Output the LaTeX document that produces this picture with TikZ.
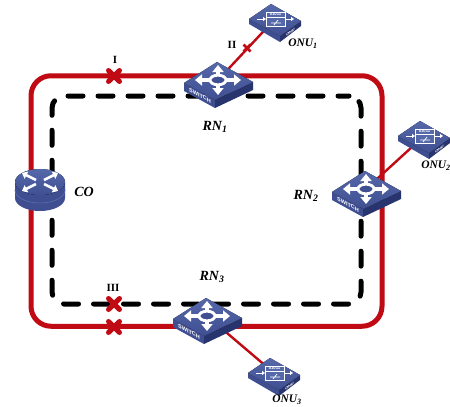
\documentclass[tikz,border=0pt]{standalone}
\usepackage{fontspec}
\setmainfont{Liberation Serif}
\newfontfamily\iconfont{Liberation Sans}
\usetikzlibrary{arrows.meta,shapes.misc}
\definecolor{ringred}{HTML}{C00A14}
\definecolor{facetop}{HTML}{5568AA}
\definecolor{facebot}{HTML}{3F4F92}
\definecolor{sideL}{HTML}{3E4E90}
\definecolor{sideR}{HTML}{28346E}
\tikzset{
  ringline/.style={draw=ringred,line width=5pt,rounded corners=20pt,inner sep=0pt,outer sep=0pt,minimum width=351pt,minimum height=250.5pt},
  dashloop/.style={draw=black,line width=5pt,line cap=round,dash pattern=on 15pt off 15pt,dash phase=4pt,rounded corners=12pt,inner sep=0pt,outer sep=0pt,minimum width=309pt,minimum height=208pt},
  failx/.style={cross out,draw=ringred,line width=5pt,line cap=round,minimum size=11pt,inner sep=0pt,outer sep=0pt},
  failxsmall/.style={cross out,draw=ringred,line width=2.6pt,minimum size=7pt,inner sep=0pt,outer sep=0pt},
  droplink/.style={draw=ringred,line width=2.4pt},
  lab/.style={font=\fontsize{14}{14}\selectfont\bfseries\itshape,inner sep=0pt},
  onulab/.style={font=\fontsize{11.5}{11.5}\selectfont\bfseries\itshape,inner sep=0pt},
  num/.style={font=\fontsize{11}{11}\selectfont\bfseries,inner sep=0pt},
  whitearrow/.style={white,line width=3.2pt,-{Triangle[length=7pt,width=11pt]}},
  pics/switchicon/.style={code={
    \fill[sideL] (-34,3) -- (-3,20) -- (-3,28) -- (-34,11) -- cycle;
    \fill[sideR] (35,2) -- (-3,20) -- (-3,28) -- (35,10) -- cycle;
    \fill[top color=facetop,bottom color=facebot] (-34,3) -- (-1,-18) -- (35,2) -- (-3,20) -- cycle;
    \draw[whitearrow] (-8,0) -- (-23,0);
    \draw[whitearrow] (8,0) -- (23,0);
    \draw[whitearrow] (0,-5) -- (0,-15);
    \draw[whitearrow] (0,5) -- (0,15);
    \draw[white,line width=2.8pt,fill=facebot] (0,0) ellipse (8pt and 4.8pt);
    \node[white,inner sep=0pt,cm={1,-0.55,0,1,(0,0)},transform shape,font=\fontsize{5.5}{5.5}\selectfont\iconfont\bfseries] at (-18,15.5) {SWITCH};
  }},
  pics/onuicon/.style={code={
    \fill[sideL] (-26,0) -- (5,17) -- (5,23) -- (-26,5) -- cycle;
    \fill[sideR] (26,2) -- (5,17) -- (5,23) -- (26,7) -- cycle;
    \fill[top color=facetop,bottom color=facebot] (-26,0) -- (-4,-15) -- (26,2) -- (5,17) -- cycle;
    \draw[white,line width=0.8pt,fill=facetop] (-9,-7) -- (10,-7) -- (10,7) -- (-9,7) -- cycle;
    \draw[white,line width=0.6pt] (-9,-2) -- (10,-2);
    \node[white,inner sep=0pt,font=\fontsize{4.2}{4.2}\selectfont\iconfont\bfseries] at (0.5,-4.5) {01011};
    \draw[white,line width=1pt,-{Triangle[length=3pt,width=4pt]}] (-18,0) -- (-9,0);
    \draw[white,line width=1pt,-{Triangle[length=3pt,width=4pt]}] (10,0) -- (19,0);
    \draw[white,line width=0.7pt] (-4,4) -- (6,4) (-1,6) -- (3,1);
    \node[white,inner sep=0pt,cm={1,0.72,0,1,(0,0)},transform shape,font=\fontsize{3.8}{3.8}\selectfont\iconfont\bfseries] at (15.5,13.5) {ONU};
  }},
  pics/routericon/.style={code={
    \fill[sideL] (-25,-3) -- (-25,13) arc[start angle=180,end angle=360,x radius=25,y radius=-13] -- (25,-3) -- cycle;
    \draw[facetop,line width=0.8pt] (-25,5) arc[start angle=180,end angle=360,x radius=25,y radius=-13];
    \fill[top color=facetop,bottom color=facebot] (0,-3) ellipse (25pt and 13pt);
    \foreach \sx/\sy in {1/1,-1/1,1/-1,-1/-1}{
      \draw[white,line width=2.6pt,-{Triangle[length=5pt,width=8pt]}] (\sx*4,\sy*2-3) -- (\sx*18,\sy*9-3);
    }
  }}
}
\begin{document}
\begin{tikzpicture}[x=1pt,y=-1pt]
\useasboundingbox (0,0) rectangle (450,407);
\fill[white] (0,0) rectangle (450,407);
% device anchors
\node[coordinate] (co) at (40,185) {};
\node[coordinate] (sw1) at (218,80) {};
\node[coordinate] (sw2) at (366,189) {};
\node[coordinate] (sw3) at (207,316) {};
\node[coordinate] (onu1) at (275,19) {};
\node[coordinate] (onu2) at (424,136) {};
\node[coordinate] (onu3) at (274,373) {};
% rings
\node[ringline] (ring) at (206.5,201) {};
\node[dashloop] (loop) at (206.5,200) {};
% drop links
\draw[droplink] (sw1) -- (onu1);
\draw[droplink] (sw2) -- (onu2);
\draw[droplink] (sw3) -- (onu3);
% fault marks
\node[failx] (f1) at (114,76) {};
\node[failxsmall] (f2) at (247,48) {};
\node[failx] (f3a) at (114,304) {};
\node[failx] (f3b) at (114,327) {};
% devices
\pic at (co) {routericon};
\pic at (sw1) {switchicon};
\pic at (sw2) {switchicon};
\pic at (sw3) {switchicon};
\pic at (onu1) {onuicon};
\pic at (onu2) {onuicon};
\pic at (onu3) {onuicon};
% labels
\node[num] (t1) at (115,60) {I};
\node[num] (t2) at (232,45) {II};
\node[num] (t3) at (113,288) {III};
\node[lab] (lco) at (84,192) {CO};
\node[lab] (lr1) at (215,127) {RN\textsubscript{1}};
\node[lab] (lr2) at (306,196) {RN\textsubscript{2}};
\node[lab] (lr3) at (212,277) {RN\textsubscript{3}};
\node[onulab] (lo1) at (303,44) {ONU\textsubscript{1}};
\node[onulab] (lo2) at (436,166) {ONU\textsubscript{2}};
\node[onulab] (lo3) at (287,400) {ONU\textsubscript{3}};
\end{tikzpicture}
\end{document}
